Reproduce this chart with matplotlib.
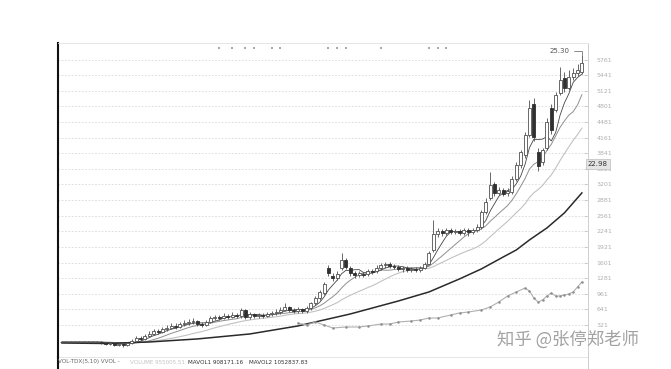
import matplotlib
matplotlib.use('Agg')
import matplotlib.pyplot as plt
import matplotlib.transforms as mtransforms
from matplotlib.lines import Line2D
import numpy as np
import pandas as pd

# ---------------- data (axis units of the right-hand scale) ----------------
opens = [-27, -27, -27, -27, -27, -27, -27, -27, -27, -27,
         -48, -68, -48, -89, -68, -89, -48, -7, 55, 35,
         96, 137, 199, 178, 240, 260, 301, 281, 342, 363,
         383, 404, 342, 322, 383, 465, 486, 465, 506, 486,
         527, 506, 629, 486, 547, 506, 527, 506, 547, 568,
         588, 629, 691, 629, 609, 650, 609, 670, 773, 875,
         978, 1490, 1326, 1285, 1490, 1654, 1490, 1388, 1346, 1367,
         1367, 1429, 1429, 1490, 1552, 1572, 1531, 1510, 1470, 1490,
         1449, 1470, 1449, 1490, 1572, 1859, 2187, 2249, 2208, 2269,
         2228, 2249, 2208, 2269, 2228, 2269, 2330, 2638, 2925, 3212,
         3028, 3089, 3028, 3048, 3315, 3602, 3806, 4217, 4852, 3868,
         3663, 3950, 4770, 4729, 5078, 5385, 5180, 5406, 5488, 5508]
highs = [-7, -7, -7, -7, -7, -7, -7, -7, -7, -7,
         -27, -27, -27, -48, -48, -27, 35, 96, 96, 137,
         199, 240, 240, 281, 322, 363, 363, 383, 424, 445,
         465, 424, 383, 424, 506, 527, 527, 568, 547, 588,
         568, 670, 650, 588, 568, 568, 568, 588, 609, 650,
         691, 773, 711, 670, 691, 670, 711, 793, 916, 1039,
         1203, 1552, 1388, 1429, 1798, 1695, 1531, 1429, 1429, 1408,
         1470, 1470, 1552, 1593, 1613, 1613, 1572, 1552, 1531, 1531,
         1510, 1510, 1531, 1613, 1838, 2474, 2310, 2290, 2310, 2310,
         2290, 2290, 2310, 2310, 2310, 2392, 2679, 2925, 3458, 3253,
         3151, 3130, 3130, 3376, 3663, 3909, 4278, 4934, 4975, 3950,
         3950, 4565, 4852, 5098, 5610, 5508, 5549, 5590, 5672, 5856]
lows = [-48, -48, -48, -48, -48, -48, -48, -48, -48, -68,
        -89, -89, -109, -109, -130, -109, -68, -27, -7, 14,
        76, 117, 137, 158, 199, 240, 240, 260, 301, 322,
        342, 301, 281, 301, 363, 424, 424, 445, 445, 465,
        465, 465, 445, 445, 465, 465, 465, 486, 506, 527,
        547, 609, 588, 568, 568, 568, 568, 629, 732, 834,
        937, 1326, 1224, 1244, 1449, 1470, 1326, 1285, 1306, 1306,
        1326, 1367, 1388, 1449, 1490, 1490, 1470, 1429, 1408, 1408,
        1408, 1408, 1408, 1470, 1552, 1818, 2126, 2146, 2166, 2187,
        2187, 2166, 2166, 2146, 2187, 2228, 2290, 2597, 2884, 2966,
        2987, 2966, 2966, 3007, 3274, 3540, 3745, 4176, 4094, 3479,
        3602, 3909, 4237, 4688, 5036, 5098, 5139, 5344, 5426, 5467]
closes = [-27, -27, -27, -27, -27, -27, -27, -27, -27, -48,
          -68, -48, -89, -68, -89, -48, -7, 55, 35, 96,
          137, 199, 178, 240, 260, 301, 281, 342, 363, 383,
          404, 342, 322, 383, 465, 486, 465, 506, 486, 527,
          506, 629, 486, 547, 506, 527, 506, 547, 568, 588,
          629, 691, 629, 609, 650, 609, 670, 773, 875, 998,
          1162, 1388, 1285, 1367, 1654, 1510, 1388, 1346, 1388, 1346,
          1429, 1408, 1490, 1552, 1572, 1531, 1510, 1470, 1490, 1449,
          1470, 1449, 1490, 1572, 1798, 2187, 2249, 2208, 2269, 2228,
          2249, 2208, 2269, 2228, 2269, 2330, 2638, 2843, 3192, 3028,
          3089, 3007, 3069, 3315, 3602, 3868, 4217, 4770, 4176, 3581,
          3909, 4483, 4319, 5036, 5344, 5180, 5406, 5488, 5549, 5692]

# slow (long-term) average line, read at sampled bars
slow_idx = [0, 10, 20, 31, 43, 54, 66, 77, 84, 91, 96, 101, 104, 107, 111, 115, 119]
slow_val = [-48, -58, -27, 35, 137, 301, 547, 813, 998, 1265, 1470, 1715, 1859, 2064, 2310, 2618, 3028]

# lower jagged indicator line
jag_idx = [54, 56, 58, 60, 62, 65, 68, 70, 73, 75, 77, 80, 82, 84, 86, 89, 91, 93, 96, 98,
           100, 102, 104, 106, 107, 108, 109, 110, 111, 112, 113, 114, 115, 116, 117, 118, 119]
jag_val = [362, 321, 382, 321, 259, 280, 280, 300, 341, 341, 382, 403, 423, 464, 464, 526, 567, 587, 628, 690,
           792, 915, 997, 1079, 1018, 874, 792, 833, 915, 977, 915, 915, 936, 956, 997, 1100, 1202]

# event marker bars (top row)
event_idx = [36, 39, 42, 44, 48, 50, 61, 63, 65, 73, 84, 86, 88]

tick_values = [321, 641, 961, 1281, 1601, 1921, 2241, 2561, 2881, 3201,
               3521, 3841, 4161, 4481, 4801, 5121, 5441, 5761]
tick_labels = [str(v) for v in tick_values]

high_label = '25.30'
cursor_label = '22.98'
cursor_value = 3620

vol_header = [('VOL-TDX(5,10) VVOL -', '#666666', 58),
              ('VOLUME 955005.51', '#c4c4c4', 130),
              ('MAVOL1 908171.16', '#333333', 188),
              ('MAVOL2 1052837.83', '#333333', 249)]
watermark = '知乎 @张停郑老师'

# ---------------- figure ----------------
W, H = 671, 369
fig = plt.figure(figsize=(W / 100, H / 100), dpi=100)
fig.patch.set_facecolor('white')
ax = fig.add_axes([58 / W, 12 / H, 530 / W, 314 / H])
ax.set_facecolor('white')

n = len(closes)
x = np.arange(n)
o = np.array(opens, float)
c = np.array(closes, float)
h = np.array(highs, float)
l = np.array(lows, float)

# grid
for tv in tick_values:
    ax.axhline(tv, color='#d9d9d9', lw=0.6, ls=(0, (2, 2)), zorder=0)

# moving averages
s = pd.Series(c)
ma5 = s.rolling(5, min_periods=1).mean()
ma10 = s.rolling(10, min_periods=1).mean()
ma20 = s.rolling(20, min_periods=1).mean()
ax.plot(x, ma20, color='#c2c2c2', lw=0.8, zorder=1)
ax.plot(x, ma10, color='#8f8f8f', lw=0.7, zorder=1)
ax.plot(x, ma5, color='#454545', lw=0.6, zorder=1)
ax.plot(slow_idx, slow_val, color='#2a2a2a', lw=1.1, zorder=1)
ax.plot(jag_idx, jag_val, color='#b0b0b0', lw=0.8, marker='.', ms=1.6,
        mfc='#8c8c8c', mec='#8c8c8c', zorder=1)

# candles
up = c >= o
ax.vlines(x, l, h, color='#505050', lw=0.6, zorder=2)
body_w = 0.68
ax.bar(x[up], (c - o)[up], bottom=o[up], width=body_w, facecolor='white',
       edgecolor='#505050', linewidth=0.6, zorder=3)
ax.bar(x[~up], (c - o)[~up], bottom=o[~up], width=body_w, facecolor='#303030',
       edgecolor='#303030', linewidth=0.6, zorder=3)

# event markers along top
trans_top = mtransforms.blended_transform_factory(ax.transData, ax.transAxes)
ax.scatter(event_idx, [0.985] * len(event_idx), transform=trans_top, s=2.5,
           marker='s', color='#a8a8a8', zorder=4, clip_on=False, linewidths=0)

# high annotation
imax = int(np.argmax(h))
ax.annotate(high_label, xy=(imax, h[imax]), xytext=(-9, 3), textcoords='offset points',
            ha='right', va='center', fontsize=5, color='#555555',
            arrowprops=dict(arrowstyle='-', color='#777777', lw=0.6, shrinkA=1, shrinkB=0,
                            connectionstyle='angle,angleA=0,angleB=90,rad=0'))

ax.set_xlim(-0.9, n + 0.4)
ax.set_ylim(-335, 6100)

# axes styling
ax.yaxis.tick_right()
ax.set_yticks(tick_values)
ax.set_yticklabels(tick_labels)
ax.tick_params(axis='y', direction='in', length=3, width=0.5, color='#c0c0c0',
               labelsize=4.5, labelcolor='#b0b0b0', pad=6)
ax.set_xticks([])
for side in ['top', 'bottom']:
    ax.spines[side].set_color('#e2e2e2')
    ax.spines[side].set_linewidth(0.6)
ax.spines['right'].set_color('#cfcfcf')
ax.spines['right'].set_linewidth(0.7)
ax.spines['left'].set_color('#111111')
ax.spines['left'].set_linewidth(1.5)

# cursor price tag on the axis
trans_r = mtransforms.blended_transform_factory(ax.transAxes, ax.transData)
ax.text(1.0, cursor_value, cursor_label, transform=trans_r, ha='left', va='center',
        fontsize=5, color='#333333', zorder=6, clip_on=False,
        bbox=dict(boxstyle='square,pad=0.25', fc='#e4e4e4', ec='#bdbdbd', lw=0.5))

# extend the left / right frame lines into the volume panel
fig.add_artist(Line2D([58 / W, 58 / W], [0, 12 / H], color='#111111', lw=1.5))
fig.add_artist(Line2D([588 / W, 588 / W], [0, 12 / H], color='#cfcfcf', lw=0.7))

# volume panel header
for txt, col, px in vol_header:
    fig.text(px / W, 1 - 362 / H, txt, fontsize=4.1, color=col, ha='left', va='center',
             family='DejaVu Sans')

# watermark
fig.text(497 / W, 1 - 340 / H, watermark, fontsize=12.5, color='#a2a2a2', ha='left',
         va='center', family=['Noto Sans CJK SC', 'DejaVu Sans'], zorder=10)

fig.savefig('out.png', dpi=100, facecolor='white')
